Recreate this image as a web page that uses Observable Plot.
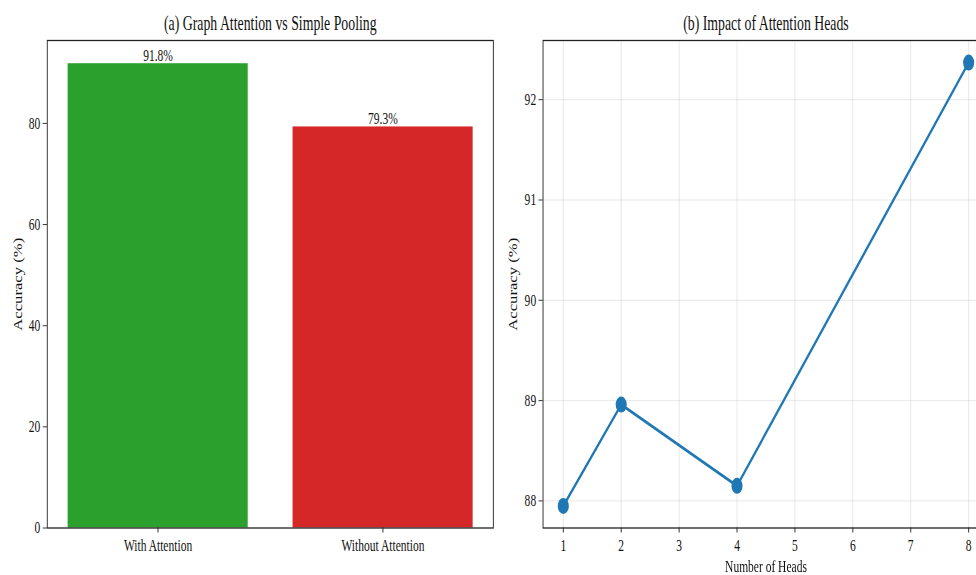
<!DOCTYPE html>
<html>
<head>
<meta charset="utf-8">
<script src="https://cdn.jsdelivr.net/npm/d3@7"></script>
<script src="https://cdn.jsdelivr.net/npm/@observablehq/plot@0.6"></script>
<style>
  html, body { margin: 0; padding: 0; background: #fff; overflow: hidden; width: 976px; height: 575px; }
  /* The figure is laid out wide and squeezed horizontally to the page width */
  #fig { position: absolute; left: 0; top: 0; width: 1440px; height: 575px; transform: scaleX(0.69); transform-origin: 0 0; }
  #fig > svg { position: absolute; top: 0; }
  #fig text { font-family: "Liberation Serif", "Times New Roman", serif; }
</style>
</head>
<body>
<div id="fig"></div>
<script>
// Panel (a): accuracy with and without graph attention
const methods = ["With Attention", "Without Attention"];
const methodAccuracy = [91.8, 79.3];
const methodColors = ["#2ca02c", "#d62728"];
const barTicks = [0, 20, 40, 60, 80];

// Panel (b): accuracy against the number of attention heads
const heads = [1, 2, 4, 8];
const headAccuracy = [87.95, 88.96, 88.15, 92.37];
const headTicksX = [1, 2, 3, 4, 5, 6, 7, 8];
const headTicksY = [88, 89, 90, 91, 92];

const font = "Liberation Serif, Times New Roman, serif";
const baseStyle = {fontFamily: font, fontSize: "16.7px", color: "#111", background: "#fff", overflow: "visible"};
const axisFont = {fontFamily: font, fontSize: 16.7};

const barData = methods.map((m, i) => ({method: m, acc: methodAccuracy[i]}));
const headData = heads.map((h, i) => ({heads: h, acc: headAccuracy[i]}));

const left = Plot.plot({
  width: 740, height: 575,
  marginLeft: 68, marginRight: 25.5, marginTop: 40, marginBottom: 47.5,
  style: baseStyle,
  x: {domain: methods, paddingInner: 0.2, paddingOuter: 0.09},
  y: {domain: [0, d3.max(methodAccuracy) * 1.05]},
  color: {domain: methods, range: methodColors},
  marks: [
    Plot.barY(barData, {x: "method", y: "acc", fill: "method"}),
    Plot.text(barData, {x: "method", y: "acc", text: d => d.acc.toFixed(1) + "%", lineAnchor: "bottom", dy: -3, fill: "#111", ...axisFont}),
    Plot.axisY({ticks: barTicks, tickFormat: "d", tickSize: 6, tickPadding: 4, label: "Accuracy (%)", labelAnchor: "center", labelOffset: 48, labelArrow: "none", ...axisFont}),
    Plot.axisX({tickSize: 5, tickPadding: 6, label: null, ...axisFont}),
    Plot.frame({stroke: "#222", strokeWidth: 1.3}),
    Plot.text(["(a) Graph Attention vs Simple Pooling"], {frameAnchor: "top", lineAnchor: "middle", dy: -17, fontSize: 20, fontFamily: font, fill: "#111"})
  ]
});

const right = Plot.plot({
  width: 700, height: 575,
  marginLeft: 46.5, marginRight: 7.3, marginTop: 40, marginBottom: 47.5,
  style: baseStyle,
  x: {domain: [0.65, 8.35]},
  y: {domain: [87.73, 92.59]},
  marks: [
    Plot.gridX(headTicksX, {stroke: "#b0b0b0", strokeOpacity: 0.35, strokeWidth: 1}),
    Plot.gridY(headTicksY, {stroke: "#b0b0b0", strokeOpacity: 0.35, strokeWidth: 1}),
    Plot.line(headData, {x: "heads", y: "acc", stroke: "#1f77b4", strokeWidth: 3}),
    Plot.dot(headData, {x: "heads", y: "acc", r: 8, fill: "#1f77b4", stroke: "none"}),
    Plot.axisX({ticks: headTicksX, tickFormat: "d", tickSize: 5, tickPadding: 6, label: "Number of Heads", labelAnchor: "center", labelOffset: 44, labelArrow: "none", ...axisFont}),
    Plot.axisY({ticks: headTicksY, tickFormat: "d", tickSize: 6, tickPadding: 4, label: "Accuracy (%)", labelAnchor: "center", labelOffset: 50, labelArrow: "none", ...axisFont}),
    Plot.frame({stroke: "#222", strokeWidth: 1.3}),
    Plot.text(["(b) Impact of Attention Heads"], {frameAnchor: "top", lineAnchor: "middle", dy: -17, fontSize: 20, fontFamily: font, fill: "#111"})
  ]
});

left.style.left = "0px";
right.style.left = "740px";
document.getElementById("fig").append(left, right);
</script>
</body>
</html>
